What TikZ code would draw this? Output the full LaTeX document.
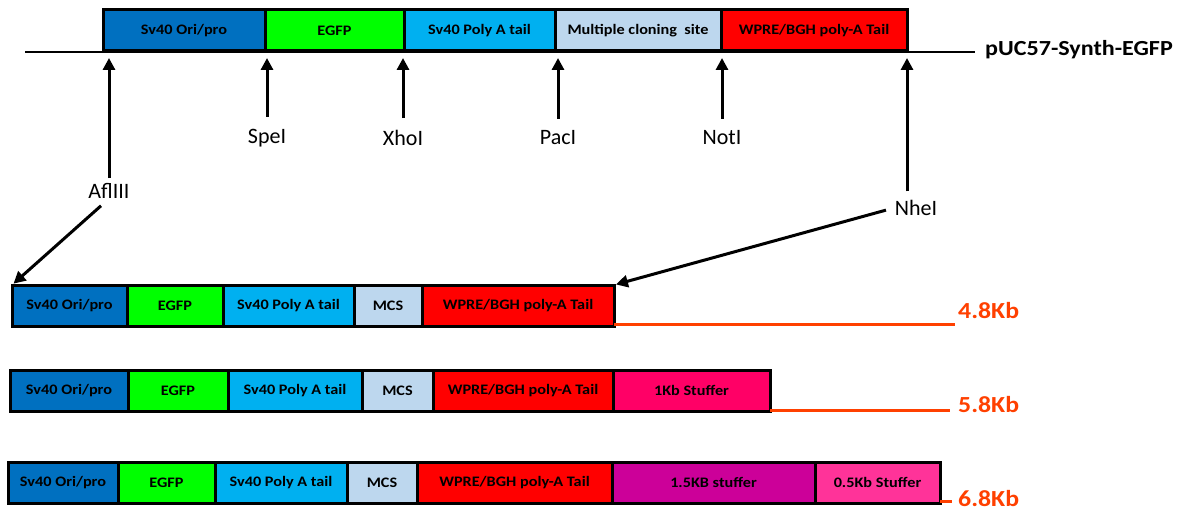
\documentclass[tikz,border=0pt]{standalone}
\usepackage{fontspec}
\setmainfont{Carlito}
\newfontfamily\boxfont{Carlito}[FakeStretch=1.12]
\usetikzlibrary{arrows.meta,positioning}
\definecolor{oriblue}{RGB}{0,112,192}
\definecolor{egfpgreen}{RGB}{0,255,0}
\definecolor{polyblue}{RGB}{0,176,240}
\definecolor{mcsblue}{RGB}{189,215,238}
\definecolor{wprered}{RGB}{255,0,0}
\definecolor{stuffpink}{RGB}{255,0,102}
\definecolor{stuffmag}{RGB}{204,0,153}
\definecolor{stuffrose}{RGB}{255,51,153}
\definecolor{kbred}{RGB}{255,64,0}

\begin{document}
\begin{tikzpicture}[
    x=1pt, y=-1pt,
    seg/.style={rectangle, draw=black, line width=3pt, anchor=north west, minimum height=41pt, inner sep=0pt, outer sep=0pt, font=\boxfont\bfseries\fontsize{14.5}{16}\selectfont},
    site/.style={font=\fontsize{22}{24}\selectfont, inner sep=1pt},
    cut/.style={-{Triangle[length=12pt,width=12pt]}, line width=3pt, black},
    kbline/.style={line width=3pt, kbred},
    kblabel/.style={anchor=west, inner sep=0pt, text=kbred, font=\boxfont\bfseries\fontsize{23}{25}\selectfont}
]
\useasboundingbox (0,0) rectangle (1188,511);

% plasmid backbone
\coordinate (bbL) at (25,52);
\coordinate (bbR) at (975,52);
\draw[line width=2.5pt] (bbL) -- (bbR);
\node[anchor=west, inner sep=0pt, font=\boxfont\bfseries\fontsize{21.5}{24}\selectfont] (puc) at (985,50) {pUC57-Synth-EGFP};

% top construct
\node[seg, fill=oriblue, minimum width=162pt] (o0) at (103,10) {Sv40 Ori/pro};
\node[seg, fill=egfpgreen, minimum width=139pt] (e0) at (265,10) {EGFP};
\node[seg, fill=polyblue, minimum width=151pt] (p0) at (404,10) {Sv40 Poly A tail};
\node[seg, fill=mcsblue, minimum width=166pt] (m0) at (555,10) {Multiple cloning\ \ site};
\node[seg, fill=wprered, minimum width=186pt] (w0) at (721,10) {WPRE/BGH poly-A Tail};

% restriction sites
\coordinate (cut) at (0,58);
\node[site] (afl) at (109,191) {AflIII};
\node[site] (spe) at (267,138) {SpeI};
\node[site] (xho) at (403,138) {XhoI};
\node[site] (pac) at (558,138) {PacI};
\node[site] (not) at (722,138) {NotI};
\node[site] (nhe) at (916,208) {NheI};

\draw[cut, shorten <=4pt] (afl.north) -- (afl.north |- cut);
\draw[cut, shorten <=11pt] (spe.north) -- (spe.north |- cut);
\draw[cut, shorten <=11pt] (xho.north) -- (xho.north |- cut);
\draw[cut, shorten <=11pt] (pac.north) -- (pac.north |- cut);
\draw[cut, shorten <=11pt] (not.north) -- (not.north |- cut);
\node[inner sep=0pt] (nhetop) at (907,192) {};
\draw[cut] (nhetop) -- (nhetop |- cut);

% 4.8 Kb construct
\node[seg, fill=oriblue, minimum width=115pt] (o1) at (12,285) {Sv40 Ori/pro};
\node[seg, fill=egfpgreen, minimum width=96pt] (e1) at (127,285) {EGFP};
\node[seg, fill=polyblue, minimum width=131pt] (p1) at (223,285) {Sv40 Poly A tail};
\node[seg, fill=mcsblue, minimum width=68pt] (m1) at (354,285) {MCS};
\node[seg, fill=wprered, minimum width=192pt] (w1) at (422,285) {WPRE/BGH poly-A Tail};

\draw[cut, shorten >=2pt] ([xshift=-8pt,yshift=-6pt]afl.south) -- (o1.north west);
\draw[cut, shorten >=2pt, shorten <=8pt] (nhe.west) -- (w1.north east);

% 5.8 Kb construct
\node[seg, fill=oriblue, minimum width=118pt] (o2) at (10,370) {Sv40 Ori/pro};
\node[seg, fill=egfpgreen, minimum width=100pt] (e2) at (128,370) {EGFP};
\node[seg, fill=polyblue, minimum width=134pt] (p2) at (228,370) {Sv40 Poly A tail};
\node[seg, fill=mcsblue, minimum width=71pt] (m2) at (362,370) {MCS};
\node[seg, fill=wprered, minimum width=180pt] (w2) at (433,370) {WPRE/BGH poly-A Tail};
\node[seg, fill=stuffpink, minimum width=157pt] (s2) at (613,370) {1Kb Stuffer};

% 6.8 Kb construct
\node[seg, fill=oriblue, minimum width=110pt] (o3) at (8,462) {Sv40 Ori/pro};
\node[seg, fill=egfpgreen, minimum width=97pt] (e3) at (118,462) {EGFP};
\node[seg, fill=polyblue, minimum width=132pt] (p3) at (215,462) {Sv40 Poly A tail};
\node[seg, fill=mcsblue, minimum width=70pt] (m3) at (347,462) {MCS};
\node[seg, fill=wprered, minimum width=195pt] (w3) at (417,462) {WPRE/BGH poly-A Tail};
\node[seg, fill=stuffmag, minimum width=203pt] (s3) at (612,462) {1.5KB stuffer};
\node[seg, fill=stuffrose, minimum width=125pt] (t3) at (815,462) {0.5Kb Stuffer};

% sizes
\node[kblabel] (kb1) at (958,311) {4.8Kb};
\node[kblabel] (kb2) at (958,405) {5.8Kb};
\node[kblabel] (kb3) at (958,499) {6.8Kb};
\draw[kbline] ([yshift=2pt]w1.south east) -- ([xshift=-3pt,yshift=2pt]w1.south east -| kb1.west);
\draw[kbline] ([yshift=1pt]s2.south east) -- ([xshift=-8pt,yshift=1pt]s2.south east -| kb2.west);
\draw[kbline] ([yshift=2pt]t3.south east) -- ([xshift=-6pt,yshift=2pt]t3.south east -| kb3.west);

\end{tikzpicture}
\end{document}
